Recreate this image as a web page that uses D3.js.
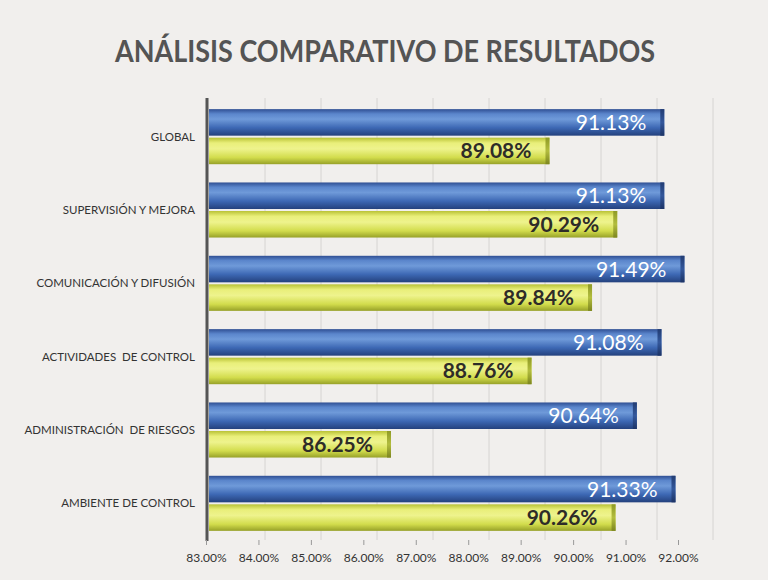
<!DOCTYPE html>
<html>
<head>
<meta charset="utf-8">
<script src="https://cdn.jsdelivr.net/npm/d3@7"></script>
<style>
  body { margin: 0; background: #f1efed; }
  svg { display: block; }
</style>
</head>
<body>
<div id="chart"></div>
<script>
const width = 768;
const height = 580;

// categorías de arriba hacia abajo
const categories = [
  "GLOBAL",
  "SUPERVISIÓN Y MEJORA",
  "COMUNICACIÓN Y DIFUSIÓN",
  "ACTIVIDADES  DE CONTROL",
  "ADMINISTRACIÓN  DE RIESGOS",
  "AMBIENTE DE CONTROL"
];
const serieAzul = [91.13, 91.13, 91.49, 91.08, 90.64, 91.33];
const serieVerde = [89.08, 90.29, 89.84, 88.76, 86.25, 90.26];
const ticks = [83, 84, 85, 86, 87, 88, 89, 90, 91, 92];

const svg = d3.select("#chart")
  .append("svg")
  .attr("width", width)
  .attr("height", height);

const defs = svg.append("defs");

function cylinder(id, stops) {
  const g = defs.append("linearGradient")
    .attr("id", id)
    .attr("x1", 0).attr("y1", 0).attr("x2", 0).attr("y2", 1);
  stops.forEach(([o, c]) => g.append("stop").attr("offset", o).attr("stop-color", c));
}
cylinder("gAzul", [[0, "#2f4f93"], [0.18, "#5b86cc"], [0.38, "#6f9ad9"], [0.7, "#3d68b4"], [1, "#24417d"]]);
cylinder("gVerde", [[0, "#b9c235"], [0.2, "#e9ef7a"], [0.42, "#eef38d"], [0.75, "#d2dc4c"], [1, "#97a128"]]);
cylinder("gAzulFin", [[0, "#233d73"], [0.5, "#34589c"], [1, "#1d3466"]]);
cylinder("gVerdeFin", [[0, "#8f9a26"], [0.5, "#b3bd3e"], [1, "#7d8620"]]);

// fondo
svg.append("rect")
  .attr("width", width).attr("height", height)
  .attr("fill", "#f1efed");

// escalas
const x = d3.scaleLinear().domain([83, 92]).range([209, 713]);
// las etiquetas del eje en la imagen quedan algo más juntas
const xLab = d3.scaleLinear().domain([83, 92]).range([206, 678]);

const y = d3.scaleBand().domain(categories).range([100, 540]);
const ySub = d3.scaleBand()
  .domain(["azul", "verde"])
  .range([0, y.bandwidth()])
  .paddingInner(0.07)
  .paddingOuter(0.32);

// líneas de división
svg.append("g")
  .selectAll("line")
  .data(ticks.slice(1))
  .enter()
  .append("line")
  .attr("x1", d => x(d)).attr("x2", d => x(d))
  .attr("y1", 98).attr("y2", 540)
  .attr("stroke", "#d6d4d2")
  .attr("stroke-width", 1);

// título
svg.append("text")
  .attr("x", 385)
  .attr("y", 62)
  .attr("text-anchor", "middle")
  .attr("font-family", "Lato, 'Open Sans', sans-serif")
  .attr("font-weight", "bold")
  .attr("font-size", 31)
  .attr("textLength", 540)
  .attr("lengthAdjust", "spacingAndGlyphs")
  .attr("fill", "#545454")
  .text("ANÁLISIS COMPARATIVO DE RESULTADOS");

// datos por fila
const rows = categories.map((c, i) => ({ cat: c, azul: serieAzul[i], verde: serieVerde[i] }));

const grupos = svg.append("g")
  .selectAll("g")
  .data(rows)
  .enter()
  .append("g")
  .attr("transform", d => `translate(0,${y(d.cat)})`);

["azul", "verde"].forEach(serie => {
  const isAzul = serie === "azul";
  grupos.append("rect")
    .attr("x", x(83))
    .attr("y", ySub(serie))
    .attr("width", d => x(d[serie]) - x(83))
    .attr("height", ySub.bandwidth())
    .attr("fill", isAzul ? "url(#gAzul)" : "url(#gVerde)");
  grupos.append("rect")
    .attr("x", d => x(d[serie]) - 4)
    .attr("y", ySub(serie))
    .attr("width", 4)
    .attr("height", ySub.bandwidth())
    .attr("fill", isAzul ? "url(#gAzulFin)" : "url(#gVerdeFin)");
  grupos.append("text")
    .attr("x", d => x(d[serie]) - 18)
    .attr("y", ySub(serie) + ySub.bandwidth() / 2)
    .attr("dy", "0.36em")
    .attr("text-anchor", "end")
    .attr("font-family", "Lato, 'Open Sans', sans-serif")
    .attr("font-weight", isAzul ? "normal" : "bold")
    .attr("font-size", 21)
    .attr("fill", isAzul ? "#ffffff" : "#2e2c28")
    .text(d => d[serie].toFixed(2) + "%");
});

// etiquetas de categorías
svg.append("g")
  .selectAll("text")
  .data(categories)
  .enter()
  .append("text")
  .attr("x", 195)
  .attr("y", d => y(d) + y.bandwidth() / 2)
  .attr("dy", "0.35em")
  .attr("text-anchor", "end")
  .attr("font-family", "Lato, 'Open Sans', sans-serif")
  .attr("font-size", 11.5)
  .attr("fill", "#333")
  .style("white-space", "pre")
  .text(d => d);

// eje vertical
svg.append("line")
  .attr("x1", 207).attr("x2", 207)
  .attr("y1", 98).attr("y2", 541)
  .attr("stroke", "#555")
  .attr("stroke-width", 3);

// eje inferior
const axis = svg.append("g")
  .attr("transform", "translate(0,540)")
  .call(d3.axisBottom(xLab)
    .tickValues(ticks)
    .tickSize(5)
    .tickPadding(8)
    .tickFormat(d => d.toFixed(2) + "%"));
axis.select(".domain").remove();
axis.selectAll(".tick line").attr("stroke", "#999");
axis.selectAll("text")
  .attr("font-family", "Lato, 'Open Sans', sans-serif")
  .attr("font-size", 12)
  .attr("fill", "#333");
</script>
</body>
</html>
